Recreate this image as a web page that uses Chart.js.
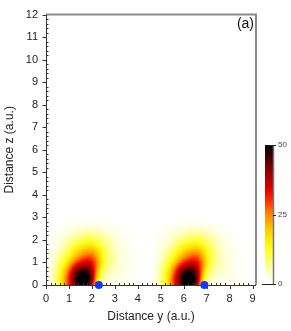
<!DOCTYPE html>
<html>
<head>
<meta charset="utf-8">
<script src="https://cdn.jsdelivr.net/npm/chart.js@4.4.0/dist/chart.umd.min.js"></script>
<style>
  html, body { margin: 0; padding: 0; background: #fff; }
  canvas { display: block; }
</style>
</head>
<body>
<canvas id="chart" width="291" height="331"></canvas>
<script>
// Density map, panel (a)

// grid of one lobe (y across, z up)
const gridY = [0, 0.2, 0.4, 0.6, 0.8, 1.0, 1.2, 1.4, 1.6, 1.8, 2.0, 2.2, 2.4, 2.6, 2.8, 3.0, 3.2, 3.4, 3.6, 3.8, 4.0, 4.2, 4.4];
const gridZ = [0, 0.2, 0.4, 0.6, 0.8, 1.0, 1.2, 1.4, 1.6, 1.8, 2.0, 2.2, 2.4, 2.6, 2.8];
const lobeValues = [
  [1, 3, 7, 13, 22, 31, 39, 48, 53, 49, 35, 16, 6, 3, 2, 2, 2, 2, 1.5, 1, 0.5, 0, 0],
  [1, 3, 7, 13, 22, 32, 42, 51, 56, 53, 40, 20, 8, 4, 3, 2, 2, 2, 1.5, 1, 0.5, 0, 0],
  [1, 3, 7, 13, 21, 31, 41, 50, 54, 52, 41, 23, 10, 5, 4, 3, 3, 2, 1.5, 1, 0.5, 0, 0],
  [1, 3, 6, 12, 19, 28, 38, 45, 48, 47, 39, 25, 12, 7, 5, 4, 3, 2.5, 1.5, 1, 0.5, 0, 0],
  [1, 3, 6, 10, 16, 24, 32, 38, 41, 41, 36, 26, 15, 9, 6, 5, 4, 2.5, 1.5, 1, 0.5, 0, 0],
  [1, 2, 5, 9, 13, 19, 26, 31, 34, 35, 33, 26, 17, 10, 7, 5, 3.5, 2.5, 1.5, 1, 0.5, 0, 0],
  [1, 2, 4, 7, 11, 15, 20, 25, 28, 30, 29, 24, 16, 10, 7, 5, 3.5, 2.5, 1.5, 1, 0.5, 0, 0],
  [0.5, 2, 3, 6, 8, 12, 16, 20, 23, 25, 25, 21, 15, 10, 7, 5, 3.5, 2.5, 1.5, 1, 0.5, 0, 0],
  [0.5, 1, 3, 4, 7, 9, 13, 16, 18, 20, 20, 17, 13, 9, 6, 4.5, 3, 2, 1.5, 0.5, 0, 0, 0],
  [0.5, 1, 2, 3, 5, 7, 10, 12, 14, 15, 15, 13, 10, 8, 6, 4, 3, 2, 1, 0.5, 0, 0, 0],
  [0, 1, 2, 3, 4, 6, 7, 9, 10, 11, 11, 10, 8, 6, 5, 3.5, 2.5, 1.5, 1, 0.5, 0, 0, 0],
  [0, 0.5, 1, 2, 3, 4, 5, 6, 7, 8, 8, 7, 6, 5, 3.5, 2.5, 2, 1, 0.5, 0, 0, 0, 0],
  [0, 0, 0.5, 1.5, 2, 3, 3.5, 4, 5, 5, 5, 5, 4, 3.5, 2.5, 2, 1, 0.5, 0, 0, 0, 0, 0],
  [0, 0, 0, 0.5, 1, 1.5, 2, 2.5, 2.5, 3, 3, 2.5, 2, 2, 1.5, 1, 0.5, 0, 0, 0, 0, 0, 0],
  [0, 0, 0, 0, 0, 0, 0.5, 0.5, 1, 1, 1, 1, 0.5, 0.5, 0, 0, 0, 0, 0, 0, 0, 0, 0]
];
// the same lobe appears twice, shifted along y
const lobeOffsets = [0, 4.6];

// blue markers on the axis
const markerY = [2.3, 6.9];
const markerZ = [0, 0];

const xTickValues = [0, 1, 2, 3, 4, 5, 6, 7, 8, 9];
const yTickValues = [0, 1, 2, 3, 4, 5, 6, 7, 8, 9, 10, 11, 12];
const colorbarTicks = [0, 25, 50];

// colour map: white -> yellow -> orange -> red -> black
const cmapStops = [
  [0, [255, 255, 255]],
  [3, [255, 255, 222]],
  [6, [255, 255, 160]],
  [12, [255, 255, 40]],
  [17, [255, 228, 0]],
  [25, [255, 140, 0]],
  [30, [255, 45, 0]],
  [34, [228, 0, 0]],
  [42, [120, 0, 0]],
  [50, [0, 0, 0]]
];

function colormap(v) {
  if (v <= cmapStops[0][0]) return cmapStops[0][1];
  for (let i = 1; i < cmapStops.length; i++) {
    if (v <= cmapStops[i][0]) {
      const [v0, c0] = cmapStops[i - 1];
      const [v1, c1] = cmapStops[i];
      const t = (v - v0) / (v1 - v0);
      return [0, 1, 2].map(k => c0[k] + (c1[k] - c0[k]) * t);
    }
  }
  return cmapStops[cmapStops.length - 1][1];
}

// bilinear lookup in the lobe grid, summed over both lobes
function sampleField(yv, zv) {
  const dy = gridY[1] - gridY[0];
  const dz = gridZ[1] - gridZ[0];
  const nx = gridY.length, nz = gridZ.length;
  let v = 0;
  for (const off of lobeOffsets) {
    const fx = (yv - off - gridY[0]) / dy;
    const fz = (zv - gridZ[0]) / dz;
    if (fx < 0 || fx > nx - 1 || fz > nz - 1) continue;
    const fzc = Math.max(0, fz);
    const i = Math.min(Math.floor(fx), nx - 2);
    const j = Math.min(Math.floor(fzc), nz - 2);
    const tx = fx - i, tz = fzc - j;
    const a = lobeValues[j][i], b = lobeValues[j][i + 1];
    const c = lobeValues[j + 1][i], d = lobeValues[j + 1][i + 1];
    v += (a * (1 - tx) + b * tx) * (1 - tz) + (c * (1 - tx) + d * tx) * tz;
  }
  return v;
}

const FONT = 'Arial, "Liberation Sans", sans-serif';

const heatmapPlugin = {
  id: 'heatmap',
  beforeDatasetsDraw(chart) {
    const { ctx, chartArea: a, scales: { x, y } } = chart;
    const left = Math.round(a.left), top = Math.round(a.top);
    const w = Math.round(a.right) - left, h = Math.round(a.bottom) - top;
    const img = ctx.createImageData(w, h);
    for (let py = 0; py < h; py++) {
      const zv = y.getValueForPixel(top + py + 0.5);
      for (let px = 0; px < w; px++) {
        const yv = x.getValueForPixel(left + px + 0.5);
        const c = colormap(sampleField(yv, zv));
        const k = (py * w + px) * 4;
        img.data[k] = c[0];
        img.data[k + 1] = c[1];
        img.data[k + 2] = c[2];
        img.data[k + 3] = 255;
      }
    }
    ctx.putImageData(img, left, top);

    // frame: grey top/right, dark left/bottom axes with ticks
    ctx.save();
    ctx.strokeStyle = '#8a8a8a';
    ctx.lineWidth = 2;
    ctx.beginPath();
    ctx.moveTo(a.left, a.top);
    ctx.lineTo(a.right, a.top);
    ctx.lineTo(a.right, a.bottom);
    ctx.stroke();

    ctx.strokeStyle = '#333';
    ctx.lineWidth = 1;
    ctx.beginPath();
    ctx.moveTo(a.left + 0.5, a.top);
    ctx.lineTo(a.left + 0.5, a.bottom + 0.5);
    ctx.lineTo(a.right, a.bottom + 0.5);
    // major ticks outward
    xTickValues.forEach(v => {
      const px = Math.round(x.getPixelForValue(v)) + 0.5;
      ctx.moveTo(px, a.bottom);
      ctx.lineTo(px, a.bottom + 4);
    });
    yTickValues.forEach(v => {
      const py = Math.round(y.getPixelForValue(v)) + 0.5;
      ctx.moveTo(a.left + 0.5, py);
      ctx.lineTo(a.left - 3.5, py);
    });
    // minor ticks inward, 5 per unit
    for (let i = 0; i < xTickValues.length; i++) {
      for (let s = 1; s < 5; s++) {
        const v = xTickValues[i] + s / 5;
        if (v > x.max) break;
        const px = Math.round(x.getPixelForValue(v)) + 0.5;
        ctx.moveTo(px, a.bottom);
        ctx.lineTo(px, a.bottom - 2);
      }
    }
    for (let i = 0; i < yTickValues.length - 1; i++) {
      for (let s = 1; s < 5; s++) {
        const py = Math.round(y.getPixelForValue(yTickValues[i] + s / 5)) + 0.5;
        ctx.moveTo(a.left, py);
        ctx.lineTo(a.left + 2.5, py);
      }
    }
    ctx.stroke();
    ctx.restore();
  },
  afterDraw(chart) {
    const { ctx, chartArea: a } = chart;
    ctx.save();
    // panel label
    ctx.fillStyle = '#111';
    ctx.font = '14px ' + FONT;
    ctx.textAlign = 'right';
    ctx.textBaseline = 'middle';
    ctx.fillText('(a)', a.right - 2, 24);

    // colour bar
    const cbL = 265, cbR = 273, cbT = 145, cbB = 284;
    const cmax = colorbarTicks[colorbarTicks.length - 1];
    for (let py = cbT; py < cbB; py++) {
      const v = cmax * (cbB - py - 0.5) / (cbB - cbT);
      const c = colormap(v);
      ctx.fillStyle = `rgb(${c[0] | 0},${c[1] | 0},${c[2] | 0})`;
      ctx.fillRect(cbL, py, cbR - cbL, 1);
    }
    ctx.strokeStyle = '#777';
    ctx.lineWidth = 1.5;
    ctx.beginPath();
    ctx.moveTo(cbR + 0.5, cbT);
    ctx.lineTo(cbR + 0.5, cbB);
    ctx.stroke();
    ctx.strokeStyle = '#222';
    ctx.lineWidth = 1;
    ctx.beginPath();
    ctx.moveTo(cbL - 3, cbB + 0.5);
    ctx.lineTo(cbR + 3, cbB + 0.5);
    colorbarTicks.forEach(t => {
      const py = Math.round(cbB - (cbB - cbT) * t / cmax) + 0.5;
      ctx.moveTo(cbR, py);
      ctx.lineTo(cbR + 3, py);
    });
    ctx.moveTo(cbL + 4, cbT + 0.5);
    ctx.lineTo(cbR, cbT + 0.5);
    ctx.stroke();
    ctx.fillStyle = '#444';
    ctx.font = '8px ' + FONT;
    ctx.textAlign = 'left';
    colorbarTicks.forEach(t => {
      const py = cbB - (cbB - cbT) * t / cmax;
      ctx.fillText(String(t), cbR + 5, py);
    });
    ctx.restore();
  }
};

new Chart(document.getElementById('chart'), {
  type: 'scatter',
  data: {
    datasets: [{
      data: markerY.map((v, i) => ({ x: v, y: markerZ[i] })),
      backgroundColor: '#1434ff',
      borderWidth: 0,
      pointRadius: 4,
      clip: false
    }]
  },
  options: {
    responsive: false,
    devicePixelRatio: 1,
    animation: false,
    events: [],
    layout: { padding: { top: 11, right: 35, left: 0, bottom: 0 } },
    plugins: { legend: { display: false }, tooltip: { enabled: false } },
    scales: {
      x: {
        type: 'linear',
        min: 0,
        max: 9.15,
        grid: { display: false, drawTicks: false, tickLength: 0 },
        border: { display: false },
        ticks: {
          stepSize: 1,
          includeBounds: false,
          autoSkip: false,
          maxRotation: 0,
          padding: 7,
          color: '#222',
          font: { family: FONT, size: 11 }
        },
        title: {
          display: true,
          text: 'Distance y (a.u.)',
          color: '#222',
          font: { family: FONT, size: 12 },
          padding: { top: 0, bottom: 7 }
        },
        afterFit(s) { s.height = 46; }
      },
      y: {
        type: 'linear',
        min: 0,
        max: 12,
        grid: { display: false, drawTicks: false, tickLength: 0 },
        border: { display: false },
        ticks: {
          stepSize: 1,
          autoSkip: false,
          padding: 8,
          color: '#222',
          font: { family: FONT, size: 11 }
        },
        title: {
          display: true,
          text: 'Distance z (a.u.)',
          color: '#222',
          font: { family: FONT, size: 12 },
          padding: { top: 2, bottom: 0 }
        },
        afterFit(s) { s.width = 46; }
      }
    }
  },
  plugins: [heatmapPlugin]
});
</script>
</body>
</html>
